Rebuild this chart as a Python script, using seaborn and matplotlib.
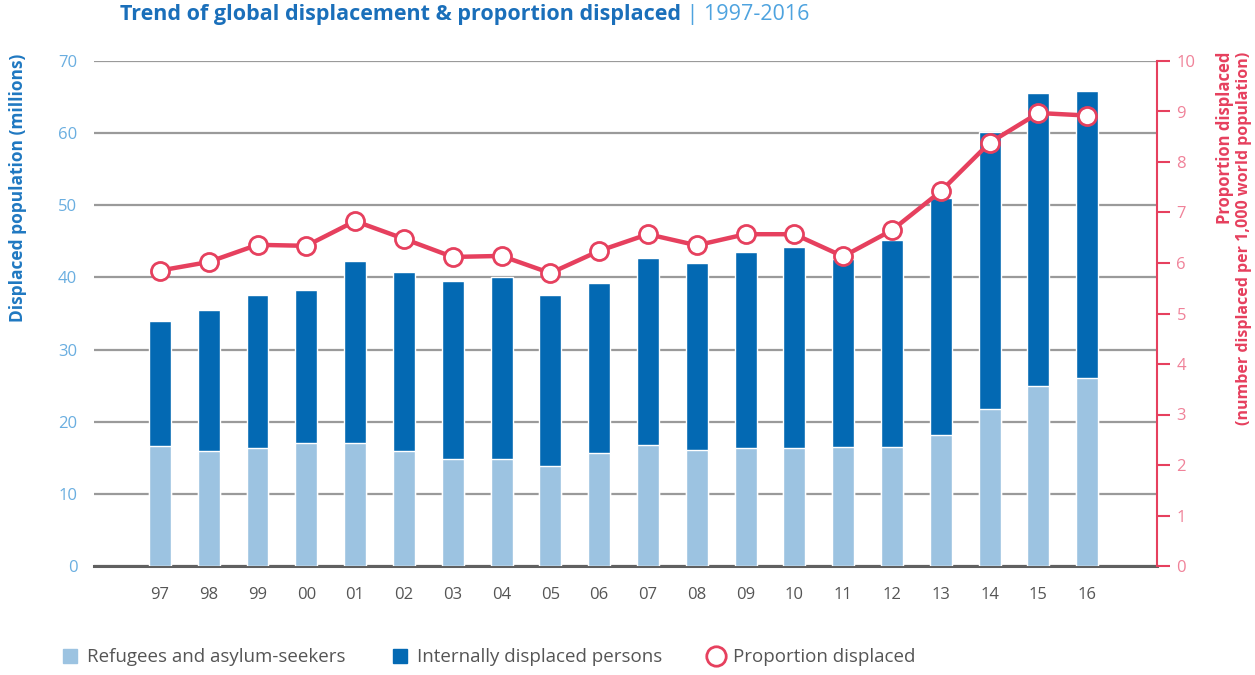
import matplotlib
matplotlib.use('Agg')
import matplotlib.pyplot as plt
import seaborn as sns
import pandas as pd
from matplotlib.lines import Line2D

years = ['97', '98', '99', '00', '01', '02', '03', '04', '05', '06',
         '07', '08', '09', '10', '11', '12', '13', '14', '15', '16']
refugees = [16.6, 15.9, 16.4, 17.1, 17.1, 15.9, 14.9, 14.9, 13.9, 15.6,
            16.8, 16.1, 16.3, 16.3, 16.5, 16.5, 18.1, 21.7, 24.9, 26.0]
total_displaced = [34.0, 35.5, 37.5, 38.3, 42.3, 40.8, 39.5, 40.0, 37.5, 39.2,
                   42.7, 42.0, 43.5, 44.2, 42.6, 45.2, 51.0, 60.1, 65.6, 65.9]
proportion = [5.85, 6.02, 6.36, 6.34, 6.83, 6.48, 6.12, 6.14, 5.80, 6.24,
              6.57, 6.35, 6.57, 6.57, 6.13, 6.65, 7.42, 8.38, 8.97, 8.92]
left_ticks = [0, 10, 20, 30, 40, 50, 60, 70]
right_ticks = list(range(0, 11))

df = pd.DataFrame({'year': years, 'refugees': refugees,
                   'total': total_displaced, 'proportion': proportion})

LIGHT = '#9cc3e1'
DARK = '#0369b3'
RED = '#e6405e'
PINK = '#f08299'
TICKBLUE = '#6aaee0'

sns.set_style('white')
plt.rcParams['font.family'] = ['Open Sans', 'DejaVu Sans']

fig = plt.figure(figsize=(12.55, 6.75), dpi=100)
ax = fig.add_axes([94 / 1255, 1 - 566 / 675, (1157 - 94) / 1255, 505 / 675])

sns.barplot(data=df, x='year', y='total', order=years, color=DARK,
            width=0.45, saturation=1, ax=ax, zorder=2)
sns.barplot(data=df, x='year', y='refugees', order=years, color=LIGHT,
            width=0.45, saturation=1, ax=ax, zorder=3)

ax.set_ylim(0, 70)
ax.set_yticks(left_ticks)
ax.set_xlim(-1.35, 20.43)
ax.yaxis.grid(True, color='#9a9a9a', lw=1.6, zorder=0)
ax.set_axisbelow(True)
for s in ['left', 'top', 'right']:
    ax.spines[s].set_visible(False)
ax.spines['bottom'].set_color('#606060')
ax.spines['bottom'].set_linewidth(2.2)
ax.tick_params(axis='x', length=0, pad=15, labelsize=12, labelcolor='#555555')
ax.tick_params(axis='y', length=0, pad=12, labelsize=12, labelcolor=TICKBLUE)
ax.set_xlabel('')
ax.set_ylabel('')

ax2 = ax.twinx()
sns.pointplot(data=df, x='year', y='proportion', order=years, color=RED,
              markers='o', markersize=13, linewidth=3.2, ax=ax2, zorder=5)
for ln in ax2.lines:
    ln.set_markerfacecolor('white')
    ln.set_markeredgecolor(RED)
    ln.set_markeredgewidth(2)
ax2.set_ylim(0, 10)
ax2.set_yticks(right_ticks)
ax2.set_xlim(-1.35, 20.43)
ax2.set_ylabel('')
ax2.set_xlabel('')
for s in ['left', 'top', 'bottom']:
    ax2.spines[s].set_visible(False)
ax2.spines['right'].set_color(RED)
ax2.spines['right'].set_linewidth(1.5)
ax2.tick_params(axis='y', right=True, left=False, length=9, width=1.5,
                color=RED, pad=5, labelsize=12, labelcolor=PINK)
ax2.grid(False)

# titles and axis labels
t1 = fig.text(120 / 1255, 1 - 4 / 675,
              'Trend of global displacement & proportion displaced',
              fontsize=15.5, fontweight='bold', color='#1a6fba', va='top', ha='left')
ax.annotate(' | 1997-2016', xy=(1, 0), xycoords=t1, va='bottom', ha='left',
            fontsize=15.5, color='#4ea3df')

fig.text(18 / 1255, 1 - 54 / 675, 'Displaced population (millions)',
         rotation=90, va='top', ha='center', fontsize=12.5, fontweight='bold',
         color='#1f78c1')
fig.text(1225 / 1255, 1 - 52 / 675, 'Proportion displaced',
         rotation=90, va='top', ha='center', fontsize=12, fontweight='bold',
         color=RED)
fig.text(1244 / 1255, 1 - 52 / 675,
         '(number displaced per 1,000 world population)',
         rotation=90, va='top', ha='center', fontsize=11.5, fontweight='bold',
         color=RED)

handles = [
    Line2D([], [], marker='s', ls='', color=LIGHT, markersize=10.5),
    Line2D([], [], marker='s', ls='', color=DARK, markersize=10.5),
    Line2D([], [], marker='o', ls='', mfc='white', mec=RED, mew=2, markersize=14),
]
labels = ['Refugees and asylum-seekers', 'Internally displaced persons',
          'Proportion displaced']
fig.legend(handles, labels, loc='lower left', bbox_to_anchor=(42 / 1255, -0.012),
           ncol=3, frameon=False, fontsize=13.5, labelcolor='#555555',
           columnspacing=2.3, handletextpad=0.3, handlelength=1.2)

fig.savefig('out.png', dpi=100)
